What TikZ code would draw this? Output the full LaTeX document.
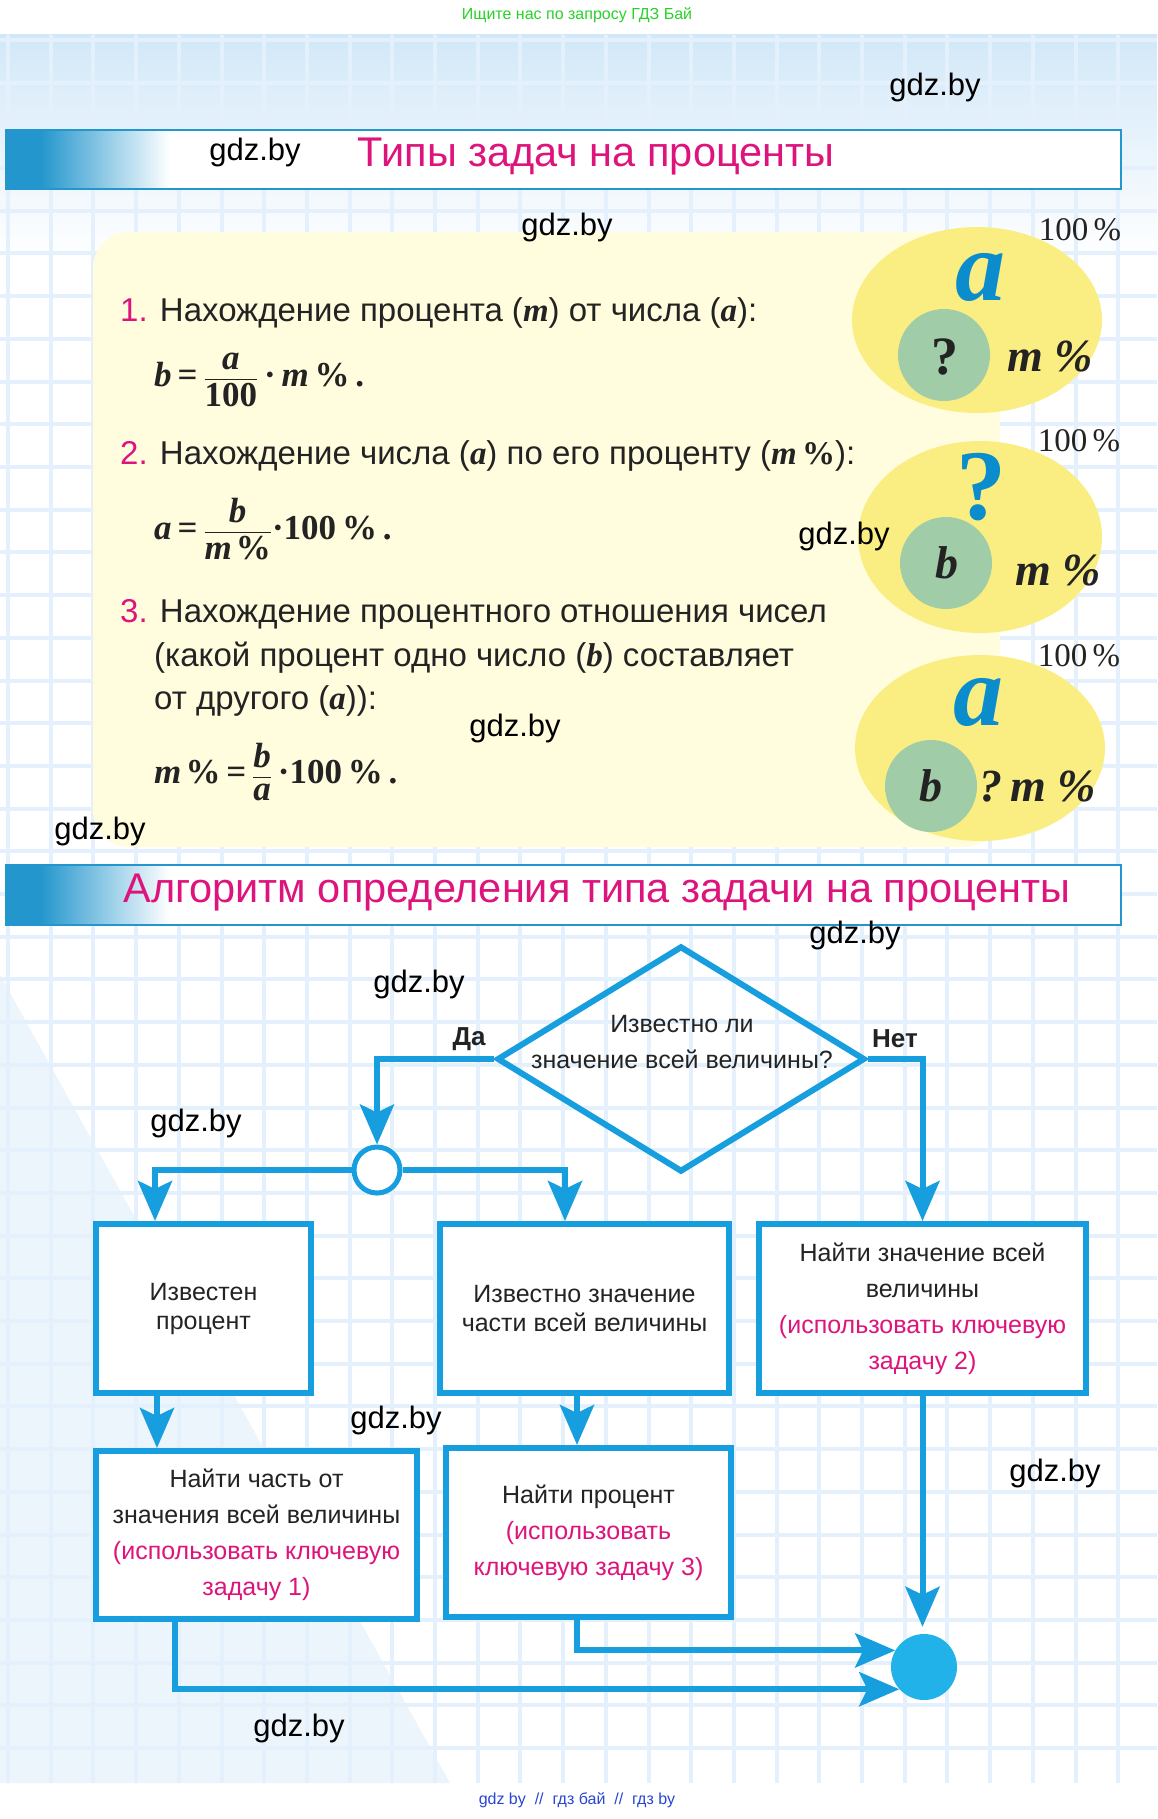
\documentclass[tikz,border=0pt]{standalone}
\usepackage{amsmath}
\usepackage{fontspec}
\setmainfont{Liberation Sans}
\newfontfamily\timesfont{Liberation Serif}
\usepackage{tikz}
\usetikzlibrary{
    arrows.meta,
    positioning,
    calc,
    shapes.geometric
}
\tikzset{
  heading/.style  = {text=titlePink, font=\fontsize{41.5}{46}\selectfont},
  wmark/.style    = {text=black, font=\fontsize{31}{36}\selectfont},
  rule/.style     = {anchor=west, inner sep=0pt, text=inkGray, font=\fontsize{33}{38}\selectfont},
  formula/.style  = {anchor=west, inner sep=0pt, text=inkGray, font=\fontsize{35}{40}\selectfont},
  pct/.style      = {text=inkGray, font=\timesfont\fontsize{33}{38}\selectfont},
  bigsym/.style   = {text=letterBlue, font=\timesfont\bfseries\itshape\fontsize{100}{100}\selectfont},
  insym/.style    = {text=inkGray, font=\timesfont\bfseries\fontsize{54}{60}\selectfont},
  msym/.style     = {text=inkGray, font=\timesfont\bfseries\itshape\fontsize{46}{50}\selectfont},
  flowbox/.style  = {draw=flowBlue, line width=6pt, fill=white, align=center,
                     inner sep=0pt, text=inkGray, font=\fontsize{25}{36}\selectfont},
  qtext/.style    = {align=center, text=inkGray, font=\fontsize{25}{36}\selectfont},
  yesno/.style    = {text=inkGray, font=\bfseries\fontsize{26}{30}\selectfont},
  joinnode/.style = {circle, draw=flowBlue, line width=5pt, fill=white,
                     minimum size=46pt, inner sep=0pt},
  endnode/.style  = {circle, fill=endBlue, minimum size=66pt, inner sep=0pt},
  flowline/.style = {flowBlue, line width=6pt},
  flowarr/.style  = {flowline, -{Stealth[length=40pt, width=34pt, inset=8pt]}},
  gridline/.style = {gridBlue, line width=4pt}
}
\definecolor{flowBlue}{RGB}{22,158,222}
\definecolor{endBlue}{RGB}{32,178,232}
\definecolor{barBlue}{RGB}{35,150,205}
\definecolor{titlePink}{RGB}{222,20,125}
\definecolor{inkGray}{RGB}{35,35,35}
\definecolor{letterBlue}{RGB}{10,140,205}
\definecolor{vennYellow}{RGB}{250,238,130}
\definecolor{vennGreen}{RGB}{160,204,168}
\definecolor{panelYellow}{RGB}{255,253,222}
\definecolor{gridBlue}{RGB}{228,241,252}
\definecolor{washBlue}{RGB}{210,232,248}
\definecolor{topGreen}{RGB}{40,210,40}
\definecolor{footBlue}{RGB}{40,70,210}
\newcommand\vb[1]{\text{\timesfont\bfseries\itshape #1}}
\newcommand\nb[1]{\text{\timesfont\bfseries #1}}

\begin{document}
\begin{tikzpicture}[x=1pt, y=-1pt]
        \useasboundingbox (0,0) rectangle (1157,1819);
        \fill[white] (0,0) rectangle (1157,1819);
        \shade[top color=washBlue, bottom color=white] (0,35) rectangle (1157,260);
        \fill[washBlue, opacity=0.4] (0,975) -- (450,1783) -- (0,1783) -- cycle;
        \foreach \i in {0,...,27}
          \draw[gridline] ({8+42.7*\i},35) -- ({8+42.7*\i},1783);
        \foreach \j in {0,...,40}
          \draw[gridline] (0,{40+42.7*\j}) -- (1157,{40+42.7*\j});
        \node[text=topGreen, font=\fontsize{16}{18}\selectfont] (top) at (577,15) {Ищите нас по запросу ГДЗ Бай};
        \node[text=footBlue, font=\fontsize{16}{18}\selectfont] (foot) at (577,1800) {gdz by \ // \ гдз бай \ // \ гдз by};

        % heading bars
        \foreach \ya/\yb in {130/189, 865/925} {
          \fill[white] (6,\ya) rectangle (1121,\yb);
          \fill[barBlue] (6,\ya) rectangle (40,\yb);
          \shade[left color=barBlue, right color=white] (40,\ya) rectangle (170,\yb);
          \draw[barBlue, line width=2.5pt] (6,\ya) rectangle (1121,\yb);
        }
        \node[heading] (h1) at (596,157) {Типы задач на проценты};
        \node[heading] (h2) at (597,893) {Алгоритм определения типа задачи на проценты};

        % panel with the three rules
        \fill[panelYellow, rounded corners=36pt] (93,232) rectangle (1000,847);
        \node[rule] (t1) at (120,313) {\textcolor{titlePink}{1.} Нахождение процента (\vb{m}) от числа (\vb{a}):};
        \node[formula] (f1) at (154,380) {$\vb{b}\nb{\,=\,}\dfrac{\vb{a}}{\nb{100}}\nb{\,·\,}\vb{m}\nb{\,\%\,.}$};
        \node[rule] (t2) at (120,456) {\textcolor{titlePink}{2.} Нахождение числа (\vb{a}) по его проценту (\vb{m}\,\nb{\%}):};
        \node[formula] (f2) at (154,529) {$\vb{a}\nb{\,=\,}\dfrac{\vb{b}}{\vb{m}\,\nb{\%}}\nb{·100\,\%\,.}$};
        \node[rule] (t3) at (120,614) {\textcolor{titlePink}{3.} Нахождение процентного отношения чисел};
        \node[rule] (t3b) at (154,658) {(какой процент одно число (\vb{b}) составляет};
        \node[rule] (t3c) at (154,701) {от другого (\vb{a})):};
        \node[formula] (f3) at (154,772) {$\vb{m}\,\nb{\%\,=\,}\dfrac{\vb{b}}{\vb{a}}\nb{\,·100\,\%\,.}$};

        % venn pictures
        \fill[vennYellow] (977,320) ellipse [x radius=125, y radius=93];
        \fill[vennGreen] (944,355) circle [radius=46];
        \node[bigsym] (va1) at (980,277) {a};
        \node[insym] (vq1) at (945,357) {?};
        \node[msym] (vm1) at (1050,357) {m \%};
        \node[pct] (vp1) at (1080,230) {100\,\%};

        \fill[vennYellow] (980,537) ellipse [x radius=122, y radius=96];
        \fill[vennGreen] (946,563) circle [radius=46];
        \node[bigsym, font=\timesfont\bfseries\fontsize{100}{100}\selectfont] (vq2) at (981,487) {?};
        \node[msym] (vb2) at (947,563) {b};
        \node[msym] (vm2) at (1058,571) {m \%};
        \node[pct] (vp2) at (1079,441) {100\,\%};

        \fill[vennYellow] (980,748) ellipse [x radius=125, y radius=93];
        \fill[vennGreen] (931,786) circle [radius=46];
        \node[bigsym] (va3) at (978,702) {a};
        \node[msym] (vb3) at (931,786) {b};
        \node[msym] (vm3) at (1038,787) {?\,m \%};
        \node[pct] (vp3) at (1079,656) {100\,\%};

        % flow chart
        \node[diamond, draw=flowBlue, line width=6pt, minimum width=368pt,
              minimum height=226pt, inner sep=0pt] (q) at (681,1059) {};
        \node[qtext] (qt) at (682,1042) {Известно ли\\значение всей величины?};
        \node[yesno] (yes) at (469,1039) {Да};
        \node[yesno] (no) at (895,1039) {Нет};
        \node[joinnode] (join) at (377,1170) {};
        \node[flowbox, minimum width=215pt, minimum height=169pt,
              font=\fontsize{25}{29}\selectfont] (b1) at (203.5,1308.5) {Известен\\процент};
        \node[flowbox, minimum width=289pt, minimum height=169pt,
              font=\fontsize{25}{29}\selectfont] (b2) at (584.5,1308.5) {Известно значение\\части всей величины};
        \node[flowbox, minimum width=327pt, minimum height=169pt] (b3) at (922.5,1308.5)
              {Найти значение всей\\величины\\\textcolor{titlePink}{(использовать ключевую}\\\textcolor{titlePink}{задачу 2)}};
        \node[flowbox, minimum width=321pt, minimum height=168pt] (b4) at (256.5,1535)
              {Найти часть от\\значения всей величины\\\textcolor{titlePink}{(использовать ключевую}\\\textcolor{titlePink}{задачу 1)}};
        \node[flowbox, minimum width=285pt, minimum height=169pt] (b5) at (588.5,1532.5)
              {Найти процент\\\textcolor{titlePink}{(использовать}\\\textcolor{titlePink}{ключевую задачу 3)}};
        \node[endnode] (fin) at (924,1667) {};

        \draw[flowarr] (q.west) -| (join.north);
        \draw[flowarr] (q.east) -| (b3.north);
        \draw[flowarr] (join.west) -| ($(b1.north west)+(62,0)$);
        \draw[flowarr] (join.east) -| ($(b2.north west)+(128,0)$);
        \draw[flowarr] ($(b1.south west)+(64,0)$) coordinate (s1) -- (s1 |- b4.north);
        \draw[flowarr] ($(b2.south west)+(140,0)$) coordinate (s2) -- (s2 |- b5.north);
        \draw[flowarr, shorten >=7pt] (b3.south) -- (b3.south |- fin.north);
        \draw[flowarr] ($(b5.south west)+(134,0)$) |- (fin.150);
        \draw[flowarr] ($(b4.south west)+(82,0)$) |- (fin.222);

        \foreach \wx/\wy [count=\k] in {935/87, 255/152, 567/227, 844/536, 515/728, 100/831,
                                        855/935, 419/984, 196/1123, 396/1420, 1055/1473, 299/1728}
          \node[wmark] (wm\k) at (\wx,\wy) {gdz.by};
      \end{tikzpicture}
\end{document}
